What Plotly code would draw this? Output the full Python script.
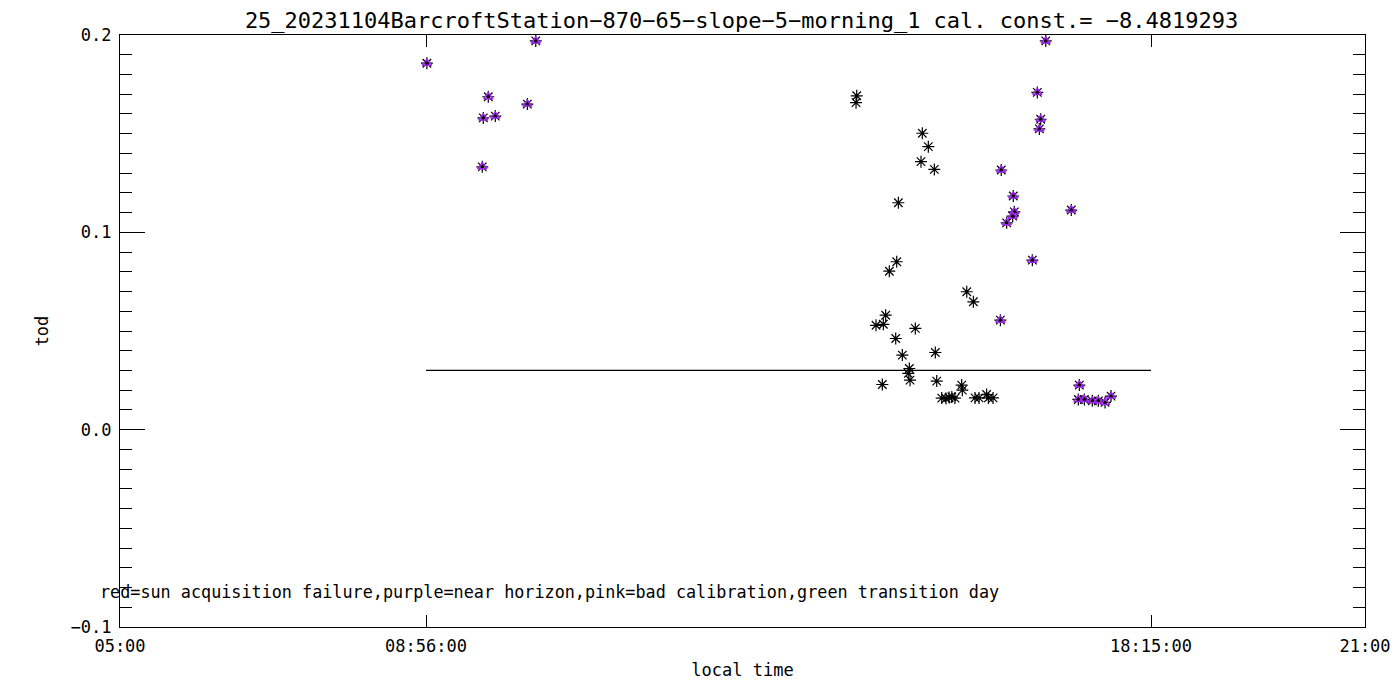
import plotly.graph_objects as go

# ---- data (local time in decimal hours, tod values) ----
black_time = [14.468, 14.459, 15.311, 15.388, 15.294, 15.465, 15.003, 14.982, 14.887,
              15.882, 15.967, 14.840, 14.716, 14.810, 15.221, 14.969, 15.054, 15.478,
              15.144, 15.131, 15.153, 14.797, 15.496, 15.817, 15.825,
              15.560, 15.615, 15.655, 15.690, 15.730,
              15.988, 16.040, 16.137, 16.160, 16.220]
black_tod = [0.1692, 0.1657, 0.1502, 0.1434, 0.1358, 0.1319, 0.1150, 0.0851, 0.0803,
             0.0699, 0.0648, 0.0580, 0.0529, 0.0534, 0.0513, 0.0462, 0.0378, 0.0391,
             0.0310, 0.0285, 0.0251, 0.0229, 0.0246, 0.0226, 0.0200,
             0.0160, 0.0158, 0.0163, 0.0166, 0.0160,
             0.0161, 0.0161, 0.0178, 0.0161, 0.0161]

purple_time = [8.944, 10.343, 9.733, 10.235, 9.669, 9.823, 9.656,
               16.897, 16.789, 16.832, 16.815, 16.325, 16.480, 16.493, 16.472, 16.395,
               17.225, 16.725, 16.314, 17.329,
               17.316, 17.393, 17.496, 17.573, 17.659, 17.736]
purple_tod = [0.1857, 0.1970, 0.1687, 0.1650, 0.1580, 0.1589, 0.1332,
              0.1970, 0.1709, 0.1573, 0.1524, 0.1316, 0.1184, 0.1104, 0.1082, 0.1048,
              0.1113, 0.0859, 0.0555, 0.0226,
              0.0153, 0.0153, 0.0146, 0.0146, 0.0138, 0.0170]

threshold_time = [8.9333, 18.25]
threshold_tod = [0.03, 0.03]

x_tickvals = [5.0, 8.9333, 18.25, 21.0]
x_ticktext = ["05:00", "08:56:00", "18:15:00", "21:00"]
y_tickvals = [-0.1, 0.0, 0.1, 0.2]
y_ticktext = ["\u22120.1", "0.0", "0.1", "0.2"]

title_text = "25_20231104BarcroftStation\u2212870\u221265\u2212slope\u22125\u2212morning_1 cal. const.= \u22128.4819293"
note_text = "red=sun acquisition failure,purple=near horizon,pink=bad calibration,green transition day"

FONT = "DejaVu Sans Mono"
PURPLE = "#A020F0"

fig = go.Figure()

fig.add_trace(go.Scatter(x=threshold_time, y=threshold_tod, mode="lines",
                         line=dict(color="black", width=1.2), showlegend=False,
                         hoverinfo="skip"))
fig.add_trace(go.Scatter(x=black_time, y=black_tod, mode="markers",
                         marker=dict(symbol="asterisk-open", size=10, color="black",
                                     line=dict(color="black", width=1.2)),
                         showlegend=False))
fig.add_trace(go.Scatter(x=purple_time, y=purple_tod, mode="markers",
                         marker=dict(symbol="asterisk-open", size=10, color="black",
                                     line=dict(color="black", width=1.2)),
                         showlegend=False))
fig.add_trace(go.Scatter(x=purple_time, y=purple_tod, mode="markers",
                         marker=dict(symbol="triangle-up-open", size=8, color=PURPLE,
                                     line=dict(color=PURPLE, width=1.5)),
                         showlegend=False))

fig.add_annotation(x=-0.018, y=-0.0825, xref="paper", yref="y", text=note_text,
                   showarrow=False, xanchor="left", yanchor="middle",
                   font=dict(family=FONT, size=16.8, color="black"))

fig.update_layout(
    width=1392, height=692,
    paper_bgcolor="white", plot_bgcolor="white",
    margin=dict(l=112, r=35, t=27, b=73, autoexpand=False),
    font=dict(family=FONT, size=17, color="black"),
    title=dict(text=title_text, x=0.527, xanchor="center", y=1.0, yanchor="top",
               yref="container", pad=dict(t=5, b=0),
               font=dict(family=FONT, size=22, color="black")),
    xaxis=dict(range=[5, 21], tickmode="array", tickvals=x_tickvals, ticktext=x_ticktext,
               ticks="inside", ticklen=12, tickwidth=1, tickcolor="black",
               showline=True, linecolor="black", linewidth=1.2, mirror="allticks",
               showgrid=False, zeroline=False, ticklabelstandoff=3, automargin=False,
               title=dict(text="local time", standoff=9, font=dict(family=FONT, size=17))),
    yaxis=dict(range=[-0.1, 0.2], tickmode="array", tickvals=y_tickvals, ticktext=y_ticktext,
               ticks="inside", ticklen=25, tickwidth=1, tickcolor="black",
               showline=True, linecolor="black", linewidth=1.2, mirror="allticks",
               showgrid=False, zeroline=False, ticklabelstandoff=4, automargin=False,
               minor=dict(ticks="inside", ticklen=12, dtick=0.01, tick0=0, tickcolor="black",
                          tickwidth=1, showgrid=False),
               title=dict(text="tod", standoff=17, font=dict(family=FONT, size=17))),
)

fig.write_html("out.html")
